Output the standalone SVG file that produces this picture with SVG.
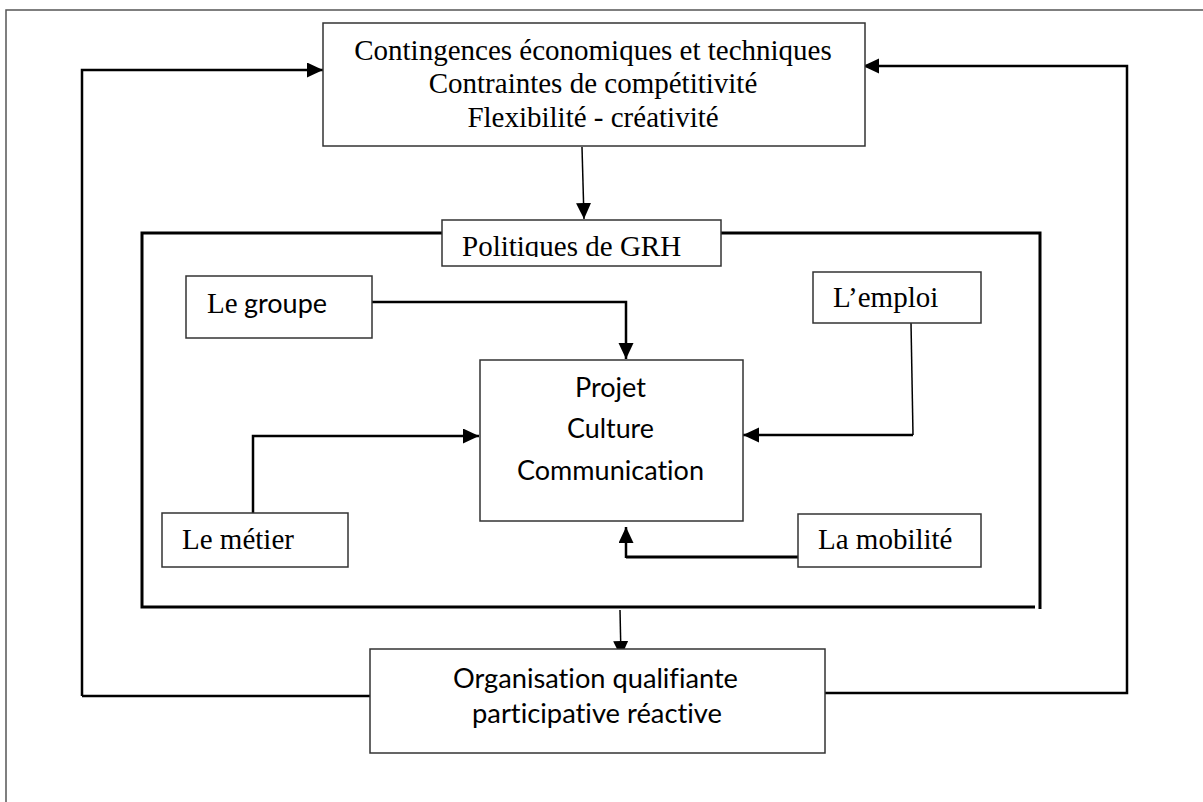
<svg xmlns="http://www.w3.org/2000/svg" width="1203" height="802" viewBox="0 0 1203 802">
<style>
.box{fill:#fff;stroke:#333;stroke-width:1.5}
.ser{font-family:"Liberation Serif","Times New Roman",serif;font-size:29px;fill:#000}
.san{font-family:Lato,"Open Sans",sans-serif;font-size:27px;fill:#000;font-variant-ligatures:none;font-feature-settings:"liga" 0,"dlig" 0}
.ln{fill:none;stroke:#000;stroke-width:2.5}
.thin{fill:none;stroke:#000;stroke-width:1.5}
.frame{fill:none;stroke:#000;stroke-width:3}
</style>
<defs>
<marker id="ah" markerUnits="userSpaceOnUse" markerWidth="17" markerHeight="16" refX="16" refY="7.5" orient="auto">
<path d="M0,0 L16,7.5 L0,15 z" fill="#000"/>
</marker>
<clipPath id="clipPol"><rect x="442" y="220" width="279" height="37"/></clipPath>
</defs>
<rect width="1203" height="802" fill="#fff"/>
<rect x="6" y="10" width="1260" height="860" fill="none" stroke="#555" stroke-width="1.5"/>

<g id="connectors">
<polyline class="ln" points="82,696 82,70 323,70" marker-end="url(#ah)"/>
<line class="ln" x1="82" y1="696" x2="370" y2="696"/>
<polyline class="ln" points="825,693 1127,693 1127,66 863,66" marker-end="url(#ah)"/>
<line class="thin" x1="582" y1="147" x2="584" y2="219" marker-end="url(#ah)"/>
<polyline class="ln" points="372,302 626,302 626,359" marker-end="url(#ah)"/>
<polyline class="ln" points="253,513 253,436 479,436" marker-end="url(#ah)"/>
<polyline class="thin" points="911,323 913,435"/>
<line class="ln" x1="913" y1="435" x2="743" y2="435" marker-end="url(#ah)"/>
<polyline class="frame" points="798,557 626,557"/>
<line class="ln" x1="626" y1="558" x2="626" y2="527" marker-end="url(#ah)"/>
<line class="thin" x1="620" y1="610" x2="621" y2="657" marker-end="url(#ah)"/>
</g>

<g id="frame-grh">
<polyline class="frame" points="442,233 142,233 142,607 1035,607"/>
<polyline class="frame" points="721,233 1040,233 1040,609"/>
</g>

<g id="n-contingences">
<rect class="box" x="323" y="23" width="542" height="123"/>
<text class="ser" x="593" y="60" text-anchor="middle">Contingences économiques et techniques</text>
<text class="ser" x="593" y="93" text-anchor="middle">Contraintes de compétitivité</text>
<text class="ser" x="593" y="127" text-anchor="middle">Flexibilité - créativité</text>
</g>

<g id="n-politiques">
<rect class="box" x="442" y="220" width="279" height="46" stroke-width="2"/>
<text class="ser" x="462" y="256" clip-path="url(#clipPol)">Politiques de GRH</text>
</g>

<g id="n-groupe">
<rect class="box" x="186" y="276" width="186" height="62"/>
<text x="207" y="313"><tspan class="ser">Le </tspan><tspan class="san" x="244" textLength="83" lengthAdjust="spacingAndGlyphs">groupe</tspan></text>
</g>

<g id="n-emploi">
<rect class="box" x="813" y="272" width="168" height="51"/>
<text class="ser" x="833" y="307">L’emploi</text>
</g>

<g id="n-projet">
<rect class="box" x="480" y="360" width="263" height="161"/>
<text class="san" x="575" y="397" textLength="71" lengthAdjust="spacingAndGlyphs">Projet</text>
<text class="san" x="567" y="438" textLength="87" lengthAdjust="spacingAndGlyphs">Culture</text>
<text class="san" x="517" y="480" textLength="187" lengthAdjust="spacingAndGlyphs">Communication</text>
</g>

<g id="n-metier">
<rect class="box" x="162" y="513" width="186" height="54"/>
<text class="ser" x="182" y="549">Le métier</text>
</g>

<g id="n-mobilite">
<rect class="box" x="798" y="514" width="183" height="53"/>
<text class="ser" x="818" y="549">La mobilité</text>
</g>

<g id="n-organisation">
<rect class="box" x="370" y="649" width="455" height="104"/>
<text class="san" x="453" y="688" textLength="285" lengthAdjust="spacingAndGlyphs">Organisation qualifiante</text>
<text class="san" x="472" y="723" textLength="250" lengthAdjust="spacingAndGlyphs">participative réactive</text>
</g>
</svg>
